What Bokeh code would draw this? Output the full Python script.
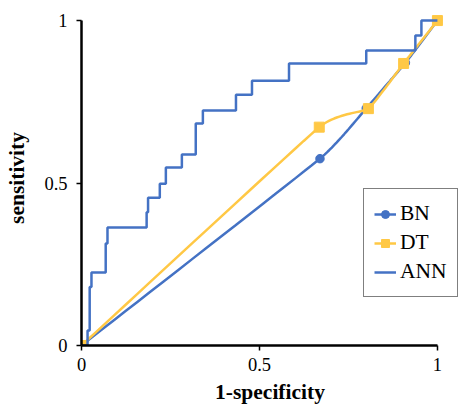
import numpy as np
from bokeh.plotting import figure
from bokeh.models import Range1d, Legend, LegendItem, FixedTicker, NumeralTickFormatter
from bokeh.embed import file_html
from bokeh.resources import INLINE

# ---- data ----
bn_fpr = [0.0, 0.67, 0.80, 0.91, 1.0]
bn_tpr = [0.0, 0.575, 0.73, 0.87, 1.0]

dt_fpr = [0.0, 0.668, 0.806, 0.905, 1.0]
dt_tpr = [0.0, 0.672, 0.729, 0.868, 1.0]

ann_fpr = [0.0, 0.017, 0.023, 0.028, 0.068, 0.073, 0.183, 0.187, 0.220, 0.237,
           0.282, 0.321, 0.341, 0.434, 0.479, 0.583, 0.800, 0.938, 0.955, 1.0]
ann_tpr = [0.0, 0.046, 0.180, 0.225, 0.314, 0.363, 0.410, 0.455, 0.498, 0.548,
           0.588, 0.683, 0.723, 0.772, 0.815, 0.868, 0.908, 0.954, 1.0, 1.0]

ticks = [0, 0.5, 1]

BLUE = "#4472C4"
GOLD = "#FFC845"
FONT = "Liberation Serif"


def smooth(xs, ys, k=0.06, n=24):
    """Lightly smoothed line (cubic Bezier, low tension) through the points."""
    P = np.column_stack([xs, ys]).astype(float)
    out = [P[0]]
    for i in range(len(P) - 1):
        p0 = P[i - 1] if i > 0 else P[i]
        p1, p2 = P[i], P[i + 1]
        p3 = P[i + 2] if i + 2 < len(P) else P[i + 1]
        c1 = p1 + (p2 - p0) * k
        c2 = p2 - (p3 - p1) * k
        t = np.linspace(0, 1, n)[1:, None]
        seg = ((1 - t) ** 3) * p1 + 3 * ((1 - t) ** 2) * t * c1 + 3 * (1 - t) * t ** 2 * c2 + t ** 3 * p2
        out.extend(seg)
    out = np.array(out)
    return out[:, 0], out[:, 1]


def step_path(xs, ys):
    px, py = [xs[0]], [ys[0]]
    for i in range(1, len(xs)):
        px += [xs[i], xs[i]]
        py += [ys[i - 1], ys[i]]
    return px, py


p = figure(width=458, height=409, output_backend="svg", toolbar_location=None,
           x_range=Range1d(0, 1.0592), y_range=Range1d(0, 1.031),
           min_border_left=81, min_border_right=0, min_border_top=10, min_border_bottom=64)
p.outline_line_color = None
p.xgrid.visible = False
p.ygrid.visible = False
p.background_fill_color = "white"
p.border_fill_color = "white"

for ax in (p.xaxis[0], p.yaxis[0]):
    ax.ticker = FixedTicker(ticks=ticks)
    ax.formatter = NumeralTickFormatter(format="0.[0]")
    ax.bounds = (0, 1)
    ax.axis_line_color = "black"
    ax.axis_line_width = 2.5
    ax.major_tick_line_color = "black"
    ax.major_tick_line_width = 1.5
    ax.major_tick_out = 5
    ax.major_tick_in = 0
    ax.minor_tick_line_color = None
    ax.major_label_text_font = FONT
    ax.major_label_text_font_size = "18.5px"
    ax.major_label_text_color = "black"
    ax.axis_label_text_font = FONT
    ax.axis_label_text_font_size = "21.5px"
    ax.axis_label_text_font_style = "bold"
    ax.axis_label_text_color = "black"

p.xaxis.axis_label = "1-specificity"
p.yaxis.axis_label = "sensitivity"
p.xaxis.major_label_standoff = 7
p.yaxis.major_label_standoff = 9
p.xaxis.axis_label_standoff = 6
p.yaxis.axis_label_standoff = 12

# BN
bx, by = smooth(bn_fpr, bn_tpr)
bn_line = p.line(bx, by, line_color=BLUE, line_width=2.5)
bn_pts = p.scatter(bn_fpr, bn_tpr, marker="circle", size=8.5, fill_color=BLUE, line_color=BLUE)

# DT
dx, dy = smooth(dt_fpr, dt_tpr)
dt_line = p.line(dx, dy, line_color=GOLD, line_width=2.5)
dt_pts = p.scatter(dt_fpr, dt_tpr, marker="square", size=10, fill_color=GOLD, line_color=GOLD)

# ANN
ax_, ay_ = step_path(ann_fpr, ann_tpr)
ann_line = p.line(ax_, ay_, line_color=BLUE, line_width=2.5)

legend = Legend(items=[
    LegendItem(label="BN", renderers=[bn_line, bn_pts]),
    LegendItem(label="DT", renderers=[dt_line, dt_pts]),
    LegendItem(label="ANN", renderers=[ann_line]),
], location=(282, 48))
legend.label_text_font = FONT
legend.label_text_font_size = "21.5px"
legend.label_text_color = "black"
legend.glyph_width = 22
legend.glyph_height = 20
legend.label_standoff = 4
legend.label_height = 29
legend.spacing = 0
legend.padding = 10
legend.margin = 0
legend.border_line_color = "black"
legend.border_line_width = 1.5
legend.background_fill_color = "white"
legend.background_fill_alpha = 1.0
p.add_layout(legend)

open("out.html", "w").write(file_html(p, INLINE))
